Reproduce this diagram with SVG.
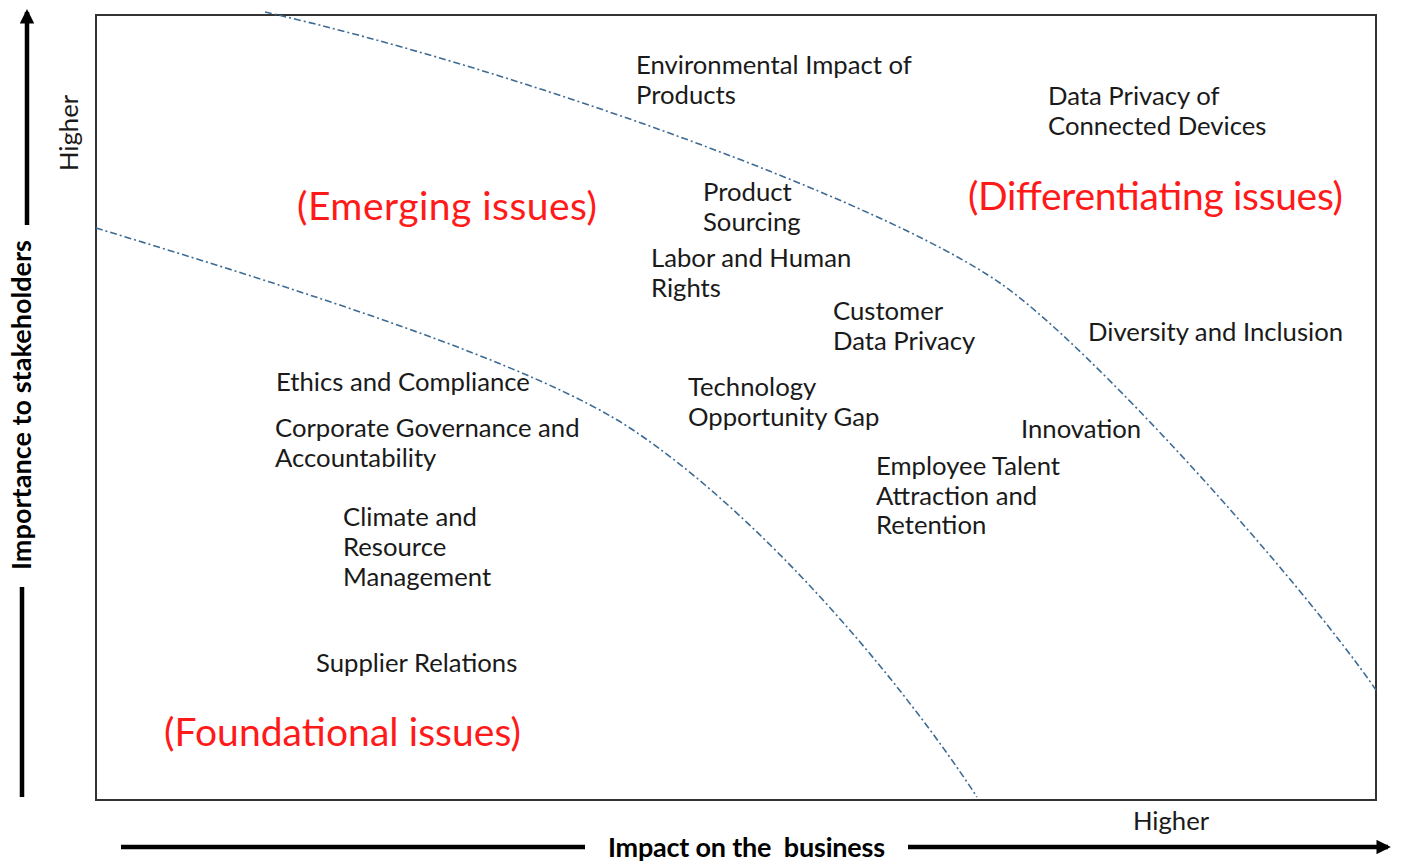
<svg xmlns="http://www.w3.org/2000/svg" width="1402" height="867" viewBox="0 0 1402 867">
<defs>
<style>
.t{font-family:Lato,"Noto Sans","Liberation Sans",sans-serif;font-size:25.7px;fill:#1a1a1a}
.r{font-family:Lato,"Noto Sans","Liberation Sans",sans-serif;font-size:39px;fill:#ff1a1a}
.ax{font-family:Lato,"Noto Sans","Liberation Sans",sans-serif;font-size:27px;font-weight:bold;fill:#000}
.hi{font-family:Lato,"Noto Sans","Liberation Sans",sans-serif;font-size:25.7px;fill:#1a1a1a}
.cv{fill:none;stroke:#3d6b94;stroke-width:1.6;stroke-dasharray:7 3 2 3}
.ar{stroke:#000;stroke-width:4.5;fill:none}
</style>
<marker id="ah" viewBox="0 0 10 10" refX="8" refY="5" markerWidth="3.2" markerHeight="3.2" orient="auto"><path d="M0,0 L10,5 L0,10 z" fill="#000"/></marker>
</defs>
<rect width="1402" height="867" fill="#fff"/>
<rect x="96" y="15" width="1280" height="785" fill="none" stroke="#333" stroke-width="2"/>
<g id="connectors">
<path class="cv" d="M265,12 C520,70 880,200 1000,283 C1090,345 1300,580 1376,690"/>
<path class="cv" d="M96,228 C300,290 533,363 633,430 C760,515 897,675 977,797"/>
<line class="ar" x1="27" y1="225" x2="27" y2="12" marker-end="url(#ah)"/>
<line class="ar" x1="22" y1="587" x2="22" y2="797"/>
<line class="ar" x1="121" y1="847" x2="585" y2="847"/>
<line class="ar" x1="908" y1="847" x2="1388" y2="847" marker-end="url(#ah)"/>
</g>
<g id="axes">
<text class="ax" transform="translate(31,405) rotate(-90)" text-anchor="middle" textLength="330">Importance to stakeholders</text>
<text class="hi" transform="translate(78,133) rotate(-90)" text-anchor="middle">Higher</text>
<text class="ax" x="746.5" y="857" text-anchor="middle" textLength="277" xml:space="preserve">Impact on the  business</text>
<text class="hi" x="1171" y="830" text-anchor="middle">Higher</text>
</g>
<g id="zones">
<text class="r" x="297" y="220" textLength="300">(Emerging issues)</text>
<text class="r" x="968" y="210" textLength="375">(Differentiating issues)</text>
<text class="r" x="164" y="746" textLength="357">(Foundational issues)</text>
</g>
<g id="n-env"><text class="t" x="636" y="74">Environmental Impact of</text><text class="t" x="636" y="104">Products</text></g>
<g id="n-dpcd"><text class="t" x="1048" y="105">Data Privacy of</text><text class="t" x="1048" y="135">Connected Devices</text></g>
<g id="n-ps"><text class="t" x="703" y="201">Product</text><text class="t" x="703" y="231">Sourcing</text></g>
<g id="n-lhr"><text class="t" x="651" y="267">Labor and Human</text><text class="t" x="651" y="297">Rights</text></g>
<g id="n-cdp"><text class="t" x="833" y="320">Customer</text><text class="t" x="833" y="350">Data Privacy</text></g>
<g id="n-di"><text class="t" x="1088" y="341">Diversity and Inclusion</text></g>
<g id="n-ec"><text class="t" x="276" y="391">Ethics and Compliance</text></g>
<g id="n-tog"><text class="t" x="688" y="396">Technology</text><text class="t" x="688" y="426">Opportunity Gap</text></g>
<g id="n-cga"><text class="t" x="275" y="437">Corporate Governance and</text><text class="t" x="275" y="467">Accountability</text></g>
<g id="n-inn"><text class="t" x="1021" y="438">Innovation</text></g>
<g id="n-eta"><text class="t" x="876" y="475">Employee Talent</text><text class="t" x="876" y="505">Attraction and</text><text class="t" x="876" y="534">Retention</text></g>
<g id="n-crm"><text class="t" x="343" y="526">Climate and</text><text class="t" x="343" y="556">Resource</text><text class="t" x="343" y="586">Management</text></g>
<g id="n-sr"><text class="t" x="316" y="672">Supplier Relations</text></g>
</svg>
